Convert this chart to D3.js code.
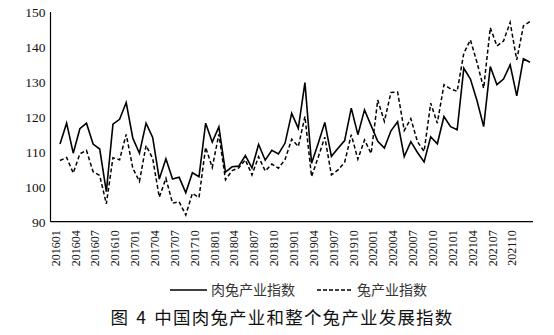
<!DOCTYPE html>
<html>
<head>
<meta charset="utf-8">
<script src="https://cdn.jsdelivr.net/npm/d3@7/dist/d3.min.js"></script>
<style>
  html, body { margin: 0; padding: 0; background: #fff; }
  svg { display: block; }
  .num { font-family: "Liberation Serif", "Times New Roman", serif; }
  .cjk { font-family: "Noto Sans CJK SC", sans-serif; }
</style>
</head>
<body>
<svg id="chart" width="554" height="335"></svg>
<script>
// Monthly categories, 2016-01 .. 2021-12
const months = [
  "201601","201602","201603","201604","201605","201606","201607","201608","201609","201610","201611","201612",
  "201701","201702","201703","201704","201705","201706","201707","201708","201709","201710","201711","201712",
  "201801","201802","201803","201804","201805","201806","201807","201808","201809","201810","201811","201812",
  "201901","201902","201903","201904","201905","201906","201907","201908","201909","201910","201911","201912",
  "202001","202002","202003","202004","202005","202006","202007","202008","202009","202010","202011","202012",
  "202101","202102","202103","202104","202105","202106","202107","202108","202109","202110","202111","202112"
];

// 肉兔产业指数 (solid line)
const meatRabbitIndex = [
  112.2, 118.2, 109.6, 116.6, 118.2, 112.2, 110.8,  98.6, 117.9, 119.3, 124.1, 113.9,
  109.6, 118.2, 114.1, 102.2, 108.0, 102.2, 102.7,  98.3, 104.0, 102.9, 118.2, 112.8,
  117.1, 104.2, 105.7, 105.9, 108.9, 105.4, 112.1, 107.6, 110.4, 109.4, 112.5, 121.0,
  116.7, 129.8, 106.7, 112.4, 118.4, 108.7, 111.0, 113.2, 122.5, 114.9, 122.0, 117.5,
  113.0, 111.1, 116.0, 118.6, 108.6, 112.9, 109.8, 107.1, 114.3, 112.3, 120.1, 117.2,
  116.3, 133.9, 130.8, 124.6, 117.2, 134.4, 129.2, 130.8, 134.9, 126.0, 136.6, 135.6
];

// 兔产业指数 (dashed line)
const rabbitIndex = [
  107.5, 108.4, 103.9, 109.4, 110.4, 104.3, 103.2,  95.1, 108.3, 107.7, 115.0, 105.3,
  101.5, 111.8, 108.1,  97.0, 102.4,  95.3,  95.7,  91.9,  98.1,  96.9, 111.3, 105.5,
  115.0, 102.0, 104.6, 105.4, 107.7, 103.4, 108.6, 104.5, 106.5, 105.3, 107.8, 113.6,
  111.5, 120.1, 102.9, 108.4, 114.2, 103.4, 104.8, 107.0, 114.9, 107.9, 113.4, 109.5,
  124.8, 118.7, 127.0, 127.1, 116.1, 119.5, 112.9, 110.1, 123.9, 118.2, 129.2, 128.0,
  127.3, 138.2, 142.0, 135.5, 128.2, 145.5, 140.3, 141.7, 147.0, 136.3, 146.0, 147.3
];

const xTickLabels = [
  "201601","201604","201607","201610","201701","201704","201707","201710",
  "201801","201804","201807","201810","201901","201904","201907","201910",
  "202001","202004","202007","202010","202101","202104","202107","202110"
];
const yTicks = [90, 100, 110, 120, 130, 140, 150];
const seriesNames = ["肉兔产业指数", "兔产业指数"];
const chartTitle = "图 4 中国肉兔产业和整个兔产业发展指数";

// ---- layout ----
const plot = { left: 50.5, right: 533, top: 12, bottom: 221.7 };

const svg = d3.select("#chart");

const x = d3.scalePoint()
  .domain(months)
  .range([plot.left + 9.5, plot.right - 3]);

const y = d3.scaleLinear()
  .domain([90, 150])
  .range([plot.bottom, plot.top]);

// ---- axes ----
const yAxis = svg.append("g")
  .attr("transform", `translate(${plot.left},0)`)
  .call(d3.axisLeft(y).tickValues(yTicks).tickSize(0).tickPadding(5));
yAxis.attr("font-family", null).attr("font-size", null);
yAxis.select(".domain").remove();
yAxis.selectAll("text")
  .attr("class", "num")
  .style("font-size", "13.5px")
  .attr("fill", "#111");

const xAxis = svg.append("g")
  .attr("transform", `translate(0,${plot.bottom})`)
  .call(d3.axisBottom(x).tickValues(xTickLabels).tickSize(0));
xAxis.attr("font-family", null).attr("font-size", null);
xAxis.select(".domain").remove();
xAxis.selectAll("text")
  .attr("class", "num")
  .style("font-size", "12px")
  .attr("fill", "#111")
  .attr("x", 0)
  .attr("y", 0)
  .attr("dy", "0.35em")
  .attr("text-anchor", "end")
  .attr("transform", "translate(-5,8.5) rotate(-90)");

// axis lines
svg.append("line")
  .attr("x1", plot.left).attr("x2", plot.left)
  .attr("y1", plot.top).attr("y2", plot.bottom)
  .attr("stroke", "#000").attr("stroke-width", 1.2);
svg.append("line")
  .attr("x1", plot.left).attr("x2", plot.right)
  .attr("y1", plot.bottom).attr("y2", plot.bottom)
  .attr("stroke", "#000").attr("stroke-width", 1.2);

// ---- series ----
const line = d3.line()
  .x((d, i) => x(months[i]))
  .y(d => y(d));

svg.append("path")
  .datum(rabbitIndex)
  .attr("d", line)
  .attr("fill", "none")
  .attr("stroke", "#000")
  .attr("stroke-width", 1.5)
  .attr("stroke-dasharray", "4,2.5")
  .attr("stroke-linejoin", "miter");

svg.append("path")
  .datum(meatRabbitIndex)
  .attr("d", line)
  .attr("fill", "none")
  .attr("stroke", "#000")
  .attr("stroke-width", 1.6)
  .attr("stroke-linejoin", "miter");

// ---- legend ----
const legendY = 290;
const legendItems = [
  { name: seriesNames[0], x0: 170, x1: 207, dash: null },
  { name: seriesNames[1], x0: 317, x1: 353, dash: "4,2" }
];
legendItems.forEach(item => {
  svg.append("line")
    .attr("x1", item.x0).attr("x2", item.x1)
    .attr("y1", legendY).attr("y2", legendY)
    .attr("stroke", "#000")
    .attr("stroke-width", 1.5)
    .attr("stroke-dasharray", item.dash);
  svg.append("text")
    .attr("class", "cjk")
    .attr("x", item.x1 + 4)
    .attr("y", legendY)
    .attr("dy", "0.36em")
    .style("font-size", "14px")
    .attr("fill", "#333")
    .text(item.name);
});

// ---- title ----
svg.append("text")
  .attr("class", "cjk")
  .attr("x", 282)
  .attr("y", 318)
  .attr("dy", "0.36em")
  .attr("text-anchor", "middle")
  .style("font-size", "17.5px")
  .style("letter-spacing", "1.2px")
  .style("word-spacing", "2px")
  .attr("fill", "#111")
  .text(chartTitle);
</script>
</body>
</html>
